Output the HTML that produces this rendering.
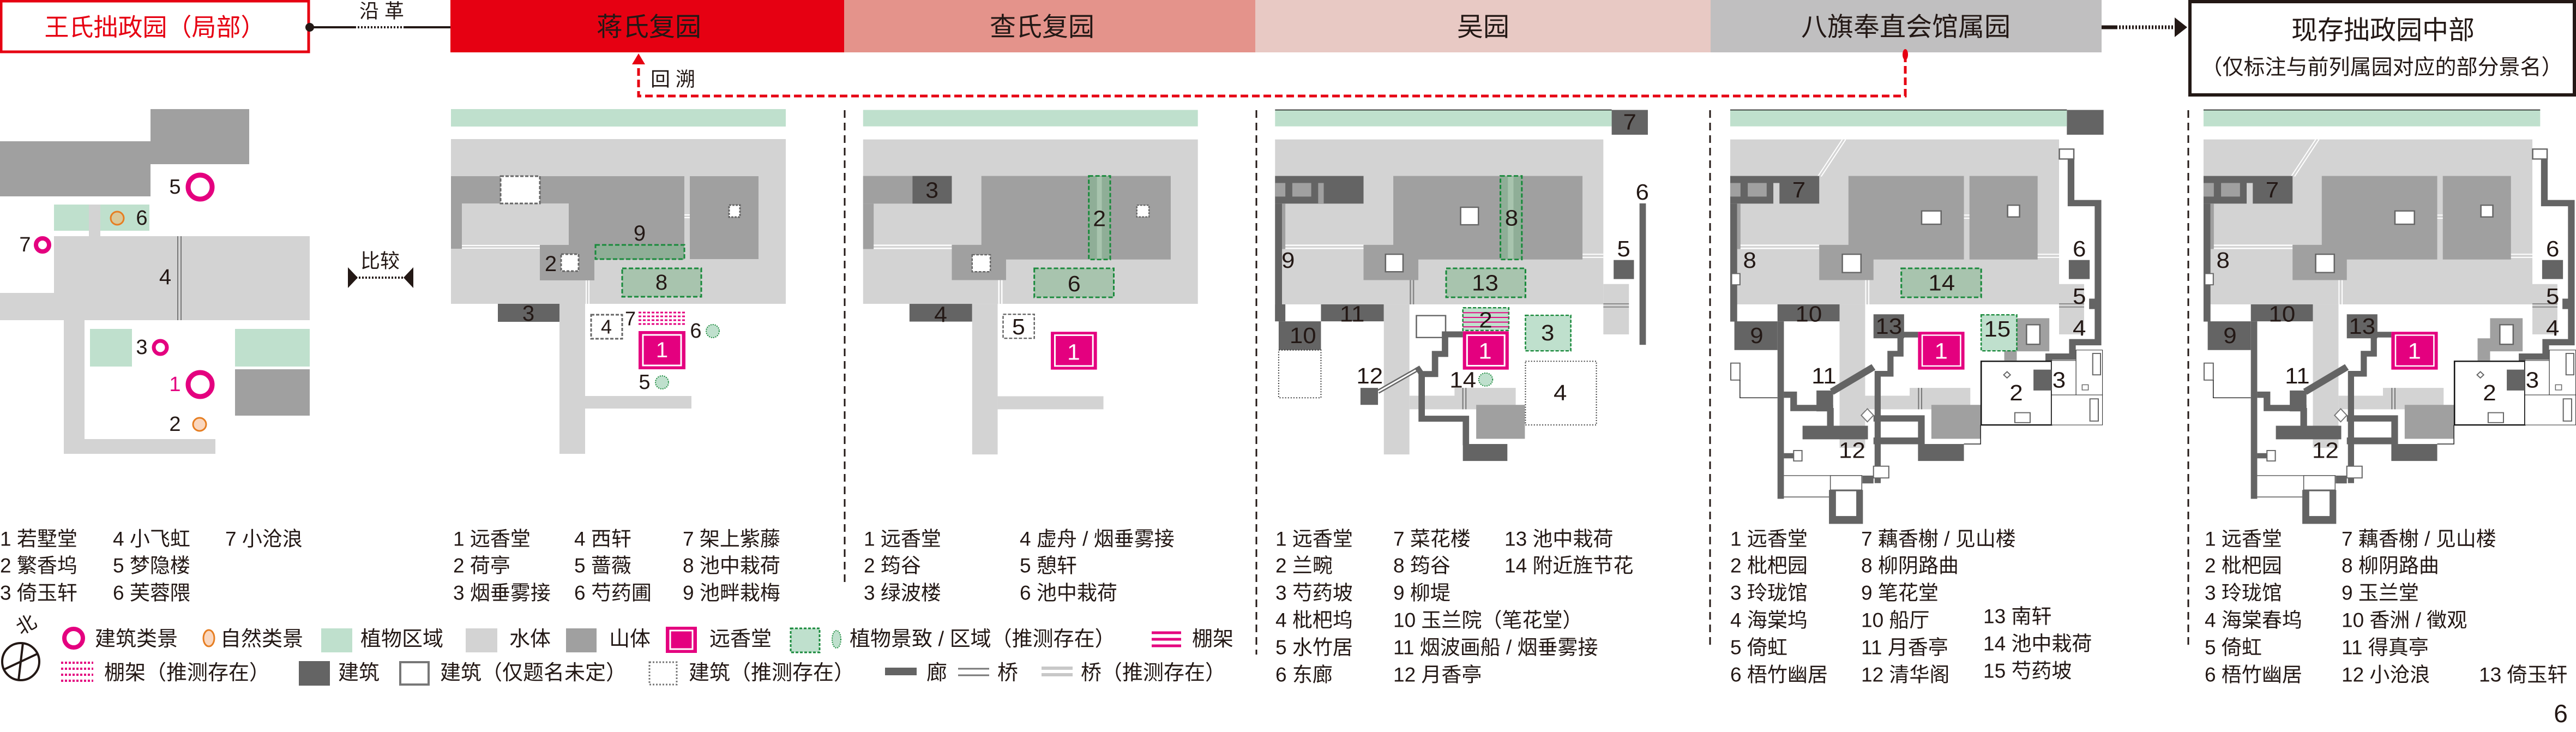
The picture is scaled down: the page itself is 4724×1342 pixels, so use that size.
<!DOCTYPE html>
<html><head><meta charset="utf-8"><style>
html,body{margin:0;padding:0;background:#fff;}
svg{display:block;}
text{font-family:"Liberation Sans","Noto Sans CJK SC",sans-serif;fill:#231815;}
</style></head><body>
<svg width="4724" height="1342" viewBox="0 0 4724 1342" xmlns="http://www.w3.org/2000/svg">
<defs>
<g id="base5">
 <rect x="45" y="45" width="1210" height="63" fill="#bfe0cd"/>
 <line x1="45" y1="45" x2="1255" y2="45" stroke="#000" stroke-width="3"/>
 <polygon points="45,158 1227,158 1227,712 1317,712 1317,905 1227,905 1227,790 45,790" fill="#d3d3d3"/>
 <line x1="360" y1="300" x2="448" y2="158" stroke="#fff" stroke-width="4"/>
 <line x1="372" y1="300" x2="460" y2="158" stroke="#fff" stroke-width="4"/>
 <rect x="45" y="298" width="320" height="106" fill="#646464"/>
 <rect x="45" y="325" width="37" height="52" fill="#a0a0a0"/>
 <rect x="108" y="325" width="68" height="52" fill="#a0a0a0"/>
 <rect x="200" y="325" width="22" height="80" fill="#d3d3d3"/>
 <text x="292" y="352" font-size="86" text-anchor="middle" dominant-baseline="central">7</text>
 <rect x="45" y="404" width="25" height="452" fill="#646464"/>
 <rect x="70" y="404" width="12" height="174" fill="#a0a0a0"/>
 <rect x="82" y="561" width="283" height="5" fill="#fff"/>
 <rect x="82" y="573" width="283" height="5" fill="#fff"/>
 <rect x="470" y="298" width="415" height="320" fill="#a0a0a0"/>
 <rect x="905" y="298" width="245" height="320" fill="#a0a0a0"/>
 <rect x="365" y="562" width="195" height="135" fill="#a0a0a0"/>
 <rect x="885" y="446" width="20" height="4" fill="#fff"/>
 <rect x="885" y="458" width="20" height="4" fill="#fff"/>
 <rect x="448" y="598" width="67" height="70" fill="#fff" stroke="#666" stroke-width="5"/>
 <rect x="733" y="432" width="70" height="51" fill="#fff" stroke="#666" stroke-width="5"/>
 <rect x="1042" y="410" width="43" height="45" fill="#fff" stroke="#666" stroke-width="5"/>
 <rect x="1150" y="596" width="77" height="4" fill="#fff"/>
 <rect x="1150" y="608" width="77" height="4" fill="#fff"/>
 <rect x="530" y="697" width="4" height="93" fill="#fff"/>
 <rect x="541" y="697" width="4" height="93" fill="#fff"/>
 <rect x="1227" y="786" width="90" height="4" fill="#888"/>
 <rect x="1227" y="798" width="90" height="4" fill="#888"/>
 <rect x="1262" y="620" width="75" height="73" fill="#646464"/>
 <rect x="1228" y="195" width="52" height="38" fill="#fff" stroke="#666" stroke-width="5"/>
 <polyline points="1270,233 1270,402 1367,402 1367,935 1275,935 1275,990 1190,990 1190,1040" fill="none" stroke="#646464" stroke-width="24"/>
 <rect x="1335" y="768" width="22" height="40" fill="#646464"/>
 <text x="1300" y="578" font-size="86" text-anchor="middle" dominant-baseline="central">6</text>
 <text x="1300" y="760" font-size="86" text-anchor="middle" dominant-baseline="central">5</text>
 <text x="1300" y="882" font-size="86" text-anchor="middle" dominant-baseline="central">4</text>
 <rect x="50" y="672" width="30" height="43" fill="#fff" stroke="#666" stroke-width="4"/>
 <rect x="47" y="1015" width="33" height="65" fill="#fff" stroke="#666" stroke-width="4"/>
 <polyline points="80,1080 80,1148 215,1148" fill="none" stroke="#222" stroke-width="3"/>
 <!-- water lower -->
 <rect x="438" y="790" width="92" height="550" fill="#d3d3d3"/>
 <rect x="530" y="1140" width="378" height="52" fill="#d3d3d3"/>
 <rect x="690" y="1110" width="218" height="30" fill="#d3d3d3"/>
 <rect x="720" y="1110" width="4" height="82" fill="#777"/>
 <rect x="731" y="1110" width="4" height="82" fill="#777"/>
 <rect x="768" y="1175" width="177" height="130" fill="#a0a0a0"/>
 <polyline points="885,1325 945,1325 945,1252" fill="none" stroke="#222" stroke-width="3"/>
 <rect x="215" y="790" width="223" height="65" fill="#646464"/>
 <text x="327" y="828" font-size="86" text-anchor="middle" dominant-baseline="central">10</text>
 <rect x="60" y="855" width="155" height="110" fill="#646464"/>
 <text x="140" y="910" font-size="86" text-anchor="middle" dominant-baseline="central">9</text>
 <rect x="215" y="855" width="23" height="680" fill="#646464"/>
 <polyline points="238,1136 273,1136 273,1187 415,1187" fill="none" stroke="#646464" stroke-width="24"/>
 <rect x="355" y="1120" width="60" height="80" fill="#646464"/>
 <polyline points="560,1030 410,1125" fill="none" stroke="#646464" stroke-width="26"/>
 <rect x="393" y="1187" width="24" height="70" fill="#646464"/>
 <rect x="305" y="1255" width="235" height="52" fill="#646464"/>
 <polyline points="720,906 657,906 657,979 621,979 621,1056 575,1056 575,1475" fill="none" stroke="#646464" stroke-width="22"/>
 <rect x="560" y="828" width="110" height="92" fill="#646464"/>
 <text x="615" y="875" font-size="86" text-anchor="middle" dominant-baseline="central">13</text>
 <polyline points="560,1227 732,1227 732,1325" fill="none" stroke="#646464" stroke-width="24"/>
 <rect x="560" y="1300" width="170" height="26" fill="#646464"/>
 <rect x="720" y="1325" width="165" height="65" fill="#646464"/>
 <polygon points="538,1190 560,1215 538,1240 516,1215" fill="#fff" stroke="#777" stroke-width="4"/>
 <rect x="273" y="1350" width="30" height="40" fill="#fff" stroke="#666" stroke-width="4"/>
 <rect x="238" y="1360" width="35" height="20" fill="#646464"/>
 <rect x="560" y="1410" width="55" height="45" fill="#fff" stroke="#666" stroke-width="4"/>
 <line x1="238" y1="1446" x2="520" y2="1446" stroke="#555" stroke-width="3"/>
 <rect x="520" y="1446" width="40" height="30" fill="#646464"/>
 <line x1="238" y1="1528" x2="400" y2="1528" stroke="#555" stroke-width="3"/>
 <rect x="405" y="1446" width="113" height="55" fill="#fff" stroke="#555" stroke-width="3"/>
 <rect x="400" y="1501" width="122" height="130" fill="#646464"/>
 <rect x="425" y="1506" width="73" height="95" fill="#fff"/>
 <text x="382" y="1065" font-size="86" text-anchor="middle" dominant-baseline="central">11</text>
 <text x="483" y="1350" font-size="86" text-anchor="middle" dominant-baseline="central">12</text>
 <text x="115" y="622" font-size="86" text-anchor="middle" dominant-baseline="central">8</text>
 <rect x="720" y="895" width="167" height="145" fill="#e4007f"/>
 <rect x="735" y="908" width="138" height="118" fill="none" stroke="#fff" stroke-width="5"/>
 <text x="803" y="970" font-size="86" text-anchor="middle" dominant-baseline="central" style="fill:#fff">1</text>
 <polygon points="1075,843 1192,843 1192,970 1075,970 1075,1005 1030,1005 1030,920 1075,920" fill="#a0a0a0"/>
 <rect x="1110" y="868" width="48" height="75" fill="#fff" stroke="#666" stroke-width="5"/>
 <rect x="947" y="1008" width="253" height="244" fill="#fff" stroke="#111" stroke-width="5"/>
 <polygon points="1040,1048 1052,1060 1040,1072 1028,1060" fill="#fff" stroke="#666" stroke-width="4"/>
 <rect x="1068" y="1205" width="55" height="38" fill="#fff" stroke="#666" stroke-width="4"/>
 <rect x="1135" y="1040" width="65" height="80" fill="#646464"/>
 <text x="1073" y="1130" font-size="86" text-anchor="middle" dominant-baseline="central">2</text>
 <rect x="1200" y="1005" width="88" height="132" fill="#fff" stroke="#222" stroke-width="2"/>
 <rect x="1288" y="965" width="95" height="172" fill="#fff" stroke="#222" stroke-width="2"/>
 <rect x="1200" y="1137" width="183" height="115" fill="#fff" stroke="#222" stroke-width="2"/>
 <rect x="1348" y="978" width="28" height="82" fill="#fff" stroke="#666" stroke-width="4"/>
 <rect x="1338" y="1152" width="30" height="85" fill="#fff" stroke="#666" stroke-width="4"/>
 <rect x="1310" y="1098" width="22" height="20" fill="#fff" stroke="#666" stroke-width="3"/>
 <text x="1227" y="1080" font-size="86" text-anchor="middle" dominant-baseline="central">3</text>
</g>
</defs>

<!-- ===== HEADER ===== -->
<rect x="2" y="2" width="564" height="93" fill="#fff" stroke="#e60012" stroke-width="5"/>
<text x="284" y="50" font-size="45" text-anchor="middle" dominant-baseline="central" style="fill:#e60012">王氏拙政园（局部）</text>
<line x1="568" y1="50" x2="650" y2="50" stroke="#231815" stroke-width="4"/>
<line x1="650" y1="50" x2="742" y2="50" stroke="#231815" stroke-width="4" stroke-dasharray="3 3"/>
<line x1="742" y1="50" x2="826" y2="50" stroke="#231815" stroke-width="4"/>
<circle cx="568" cy="50" r="8" fill="#231815"/>
<text x="700" y="20" font-size="36" text-anchor="middle" dominant-baseline="central">沿 革</text>
<rect x="826" y="0" width="722" height="96" fill="#e60012"/>
<text x="1190" y="50" font-size="48" text-anchor="middle" dominant-baseline="central">蒋氏复园</text>
<rect x="1548" y="0" width="754" height="96" fill="#e4938b"/>
<text x="1911" y="50" font-size="48" text-anchor="middle" dominant-baseline="central">查氏复园</text>
<rect x="2302" y="0" width="835" height="96" fill="#e8c9c4"/>
<text x="2720" y="50" font-size="48" text-anchor="middle" dominant-baseline="central">吴园</text>
<rect x="3137" y="0" width="717" height="96" fill="#c0bfc0"/>
<text x="3495" y="50" font-size="48" text-anchor="middle" dominant-baseline="central">八旗奉直会馆属园</text>
<line x1="3854" y1="50" x2="3880" y2="50" stroke="#231815" stroke-width="7"/>
<line x1="3880" y1="50" x2="3990" y2="50" stroke="#231815" stroke-width="7" stroke-dasharray="3 3"/>
<polygon points="3988,32 4011,50 3988,68" fill="#231815"/>
<rect x="4016" y="3" width="705" height="171" fill="#fff" stroke="#231815" stroke-width="6"/>
<text x="4370" y="56" font-size="48" text-anchor="middle" dominant-baseline="central">现存拙政园中部</text>
<text x="4368" y="124" font-size="39" text-anchor="middle" dominant-baseline="central">（仅标注与前列属园对应的部分景名）</text>
<!-- red dashed back link -->
<polyline points="3494,100 3494,176 1171,176 1171,112" fill="none" stroke="#e60012" stroke-width="5" stroke-dasharray="14 7"/>
<ellipse cx="3494" cy="100" rx="5" ry="10" fill="#e60012"/>
<polygon points="1159,118 1171,98 1183,118" fill="#e60012"/>
<text x="1234" y="145" font-size="36" text-anchor="middle" dominant-baseline="central">回 溯</text>

<!-- separators -->
<g stroke="#231815" stroke-width="3" stroke-dasharray="14 9">
<line x1="1549" y1="202" x2="1549" y2="1075"/>
<line x1="2304" y1="202" x2="2304" y2="1200"/>
<line x1="3136" y1="202" x2="3136" y2="1188"/>
<line x1="4013" y1="202" x2="4013" y2="1188"/>
</g>

<!-- ===== PANEL 1 ===== -->
<rect x="276" y="200" width="181" height="101" fill="#a0a0a0"/>
<rect x="0" y="259" width="276" height="101" fill="#a0a0a0"/>
<rect x="99" y="375" width="175" height="48" fill="#bfe0cd"/>
<rect x="163" y="375" width="21" height="58" fill="#d3d3d3"/>
<circle cx="215" cy="400" r="12" fill="#d9c99a" stroke="#e67e22" stroke-width="3"/>
<text x="260" y="400" font-size="38" text-anchor="middle" dominant-baseline="central">6</text>
<text x="321" y="343" font-size="38" text-anchor="middle" dominant-baseline="central">5</text>
<circle cx="367" cy="343" r="22" fill="none" stroke="#e4007f" stroke-width="9"/>
<text x="46" y="449" font-size="38" text-anchor="middle" dominant-baseline="central">7</text>
<circle cx="78" cy="449" r="12" fill="none" stroke="#e4007f" stroke-width="8"/>
<rect x="99" y="433" width="469" height="154" fill="#d3d3d3"/>
<rect x="0" y="537" width="99" height="50" fill="#d3d3d3"/>
<line x1="326" y1="433" x2="326" y2="587" stroke="#777" stroke-width="2"/>
<line x1="332" y1="433" x2="332" y2="587" stroke="#777" stroke-width="2"/>
<text x="303" y="508" font-size="40" text-anchor="middle" dominant-baseline="central">4</text>
<rect x="117" y="587" width="38" height="245" fill="#d3d3d3"/>
<rect x="155" y="805" width="240" height="27" fill="#d3d3d3"/>
<rect x="165" y="603" width="77" height="69" fill="#bfe0cd"/>
<text x="260" y="637" font-size="38" text-anchor="middle" dominant-baseline="central">3</text>
<circle cx="294" cy="637" r="12" fill="none" stroke="#e4007f" stroke-width="7"/>
<rect x="431" y="603" width="137" height="69" fill="#bfe0cd"/>
<rect x="431" y="677" width="137" height="85" fill="#a0a0a0"/>
<text x="321" y="705" font-size="38" text-anchor="middle" dominant-baseline="central" style="fill:#e4007f">1</text>
<circle cx="367" cy="705" r="22" fill="none" stroke="#e4007f" stroke-width="9"/>
<text x="321" y="778" font-size="38" text-anchor="middle" dominant-baseline="central">2</text>
<circle cx="366" cy="778" r="12" fill="#fad7bf" stroke="#e67e22" stroke-width="3"/>
<!-- compare arrow -->
<text x="697" y="478" font-size="36" text-anchor="middle" dominant-baseline="central">比较</text>
<line x1="652" y1="509" x2="744" y2="509" stroke="#231815" stroke-width="4" stroke-dasharray="3 3"/>
<polygon points="638,490 656,509 638,528" fill="#231815"/>
<polygon points="758,490 740,509 758,528" fill="#231815"/>

<!-- ===== PANEL 2 ===== -->
<rect x="827" y="200" width="614" height="32" fill="#bfe0cd"/>
<rect x="827" y="255" width="614" height="302" fill="#d3d3d3"/>
<rect x="827" y="323" width="216" height="50" fill="#a0a0a0"/>
<rect x="827" y="373" width="20" height="83" fill="#a0a0a0"/>
<rect x="918" y="323" width="72" height="50" fill="#fff" stroke="#666" stroke-width="3" stroke-dasharray="6 3"/>
<rect x="847" y="449" width="143" height="2" fill="#fff"/>
<rect x="847" y="454" width="143" height="2" fill="#fff"/>
<rect x="1043" y="323" width="212" height="153" fill="#a0a0a0"/>
<rect x="990" y="449" width="100" height="65" fill="#a0a0a0"/>
<rect x="1029" y="466" width="32" height="31" fill="#fff" stroke="#666" stroke-width="3" stroke-dasharray="5 3"/>
<text x="1010" y="484" font-size="40" text-anchor="middle" dominant-baseline="central">2</text>
<rect x="1265" y="323" width="126" height="152" fill="#a0a0a0"/>
<rect x="1255" y="393" width="10" height="2" fill="#fff"/>
<rect x="1255" y="398" width="10" height="2" fill="#fff"/>
<rect x="1337" y="376" width="20" height="22" fill="#fff" stroke="#666" stroke-width="3" stroke-dasharray="4 2"/>
<text x="1173" y="428" font-size="40" text-anchor="middle" dominant-baseline="central">9</text>
<rect x="1092" y="449" width="163" height="26" fill="#8fae97" stroke="#1a8a3c" stroke-width="3" stroke-dasharray="8 4"/>
<rect x="1141" y="492" width="145" height="52" fill="#a8c4ae" stroke="#1a8a3c" stroke-width="3" stroke-dasharray="8 4"/>
<text x="1213" y="518" font-size="40" text-anchor="middle" dominant-baseline="central">8</text>
<rect x="1026" y="557" width="47" height="275" fill="#d3d3d3"/>
<rect x="1073" y="726" width="195" height="23" fill="#d3d3d3"/>
<rect x="1074" y="514" width="2" height="43" fill="#fff"/>
<rect x="1079" y="514" width="2" height="43" fill="#fff"/>
<rect x="913" y="557" width="113" height="33" fill="#646464"/>
<text x="969" y="575" font-size="40" text-anchor="middle" dominant-baseline="central">3</text>
<rect x="1084" y="577" width="57" height="44" fill="#fff" stroke="#666" stroke-width="3" stroke-dasharray="6 3"/>
<text x="1112" y="599" font-size="36" text-anchor="middle" dominant-baseline="central">4</text>
<text x="1156" y="584" font-size="36" text-anchor="middle" dominant-baseline="central">7</text>
<g stroke="#e4007f" stroke-width="3" stroke-dasharray="5 3">
<line x1="1171" y1="573" x2="1257" y2="573"/><line x1="1171" y1="580" x2="1257" y2="580"/>
<line x1="1171" y1="587" x2="1257" y2="587"/><line x1="1171" y1="594" x2="1257" y2="594"/>
</g>
<rect x="1171" y="607" width="86" height="70" fill="#e4007f"/>
<rect x="1179" y="614" width="70" height="56" fill="none" stroke="#fff" stroke-width="3"/>
<text x="1214" y="642" font-size="40" text-anchor="middle" dominant-baseline="central" style="fill:#fff">1</text>
<text x="1276" y="607" font-size="38" text-anchor="middle" dominant-baseline="central">6</text>
<circle cx="1307" cy="607" r="12" fill="#bfe0cd" stroke="#1a8a3c" stroke-width="2" stroke-dasharray="2 2"/>
<text x="1182" y="701" font-size="38" text-anchor="middle" dominant-baseline="central">5</text>
<circle cx="1214" cy="701" r="12" fill="#bfe0cd" stroke="#1a8a3c" stroke-width="2" stroke-dasharray="2 2"/>

<!-- ===== PANEL 3 ===== -->
<g transform="translate(1540,180) scale(0.4975,0.4785)">
 <rect x="86" y="45" width="1234" height="63" fill="#bfe0cd"/>
 <rect x="86" y="158" width="1234" height="630" fill="#d3d3d3"/>
 <rect x="86" y="298" width="182" height="106" fill="#a0a0a0"/>
 <rect x="268" y="298" width="145" height="106" fill="#646464"/>
 <rect x="86" y="404" width="39" height="174" fill="#a0a0a0"/>
 <rect x="125" y="561" width="288" height="5" fill="#fff"/>
 <rect x="125" y="573" width="288" height="5" fill="#fff"/>
 <rect x="522" y="298" width="698" height="320" fill="#a0a0a0"/>
 <rect x="413" y="562" width="200" height="135" fill="#a0a0a0"/>
 <rect x="488" y="600" width="67" height="65" fill="#fff" stroke="#666" stroke-width="5" stroke-dasharray="10 5"/>
 <rect x="918" y="298" width="79" height="320" fill="#8fae97" stroke="#1a8a3c" stroke-width="6" stroke-dasharray="16 8"/>
 <rect x="948" y="301" width="18" height="314" fill="#a8c4ae"/>
 <rect x="1095" y="410" width="45" height="45" fill="#fff" stroke="#666" stroke-width="5" stroke-dasharray="8 4"/>
 <rect x="717" y="652" width="293" height="111" fill="#a8c4ae" stroke="#1a8a3c" stroke-width="6" stroke-dasharray="16 8"/>
 <rect x="257" y="788" width="231" height="68" fill="#646464"/>
 <rect x="488" y="788" width="94" height="577" fill="#d3d3d3"/>
 <rect x="582" y="1142" width="390" height="50" fill="#d3d3d3"/>
 <rect x="584" y="697" width="5" height="91" fill="#fff"/>
 <rect x="595" y="697" width="5" height="91" fill="#fff"/>
 <rect x="602" y="828" width="115" height="92" fill="#fff" stroke="#666" stroke-width="5" stroke-dasharray="12 6"/>
 <rect x="778" y="895" width="170" height="145" fill="#e4007f"/>
 <rect x="793" y="908" width="140" height="118" fill="none" stroke="#fff" stroke-width="6"/>
 <g font-size="86" text-anchor="middle" dominant-baseline="central">
 <text x="340" y="352">3</text><text x="957" y="460">2</text><text x="864" y="710">6</text>
 <text x="372" y="828">4</text><text x="659" y="875">5</text><text x="862" y="972" style="fill:#fff">1</text>
 </g>
</g>

<!-- ===== PANEL 4 ===== -->
<g transform="translate(2300,180) scale(0.5102,0.4785)">
 <rect x="75" y="45" width="1210" height="63" fill="#bfe0cd"/>
 <line x1="75" y1="45" x2="1285" y2="45" stroke="#000" stroke-width="3"/>
 <rect x="1285" y="45" width="130" height="95" fill="#646464"/>
 <rect x="75" y="158" width="1180" height="632" fill="#d3d3d3"/>
 <rect x="1255" y="712" width="92" height="193" fill="#d3d3d3"/>
 <rect x="1255" y="786" width="92" height="4" fill="#888"/>
 <rect x="1255" y="798" width="92" height="4" fill="#888"/>
 <rect x="75" y="298" width="318" height="106" fill="#646464"/>
 <rect x="75" y="325" width="37" height="52" fill="#a0a0a0"/>
 <rect x="137" y="325" width="68" height="52" fill="#a0a0a0"/>
 <rect x="230" y="325" width="20" height="80" fill="#a0a0a0"/>
 <rect x="75" y="404" width="25" height="451" fill="#646464"/>
 <rect x="100" y="404" width="12" height="174" fill="#a0a0a0"/>
 <rect x="112" y="561" width="281" height="5" fill="#fff"/>
 <rect x="112" y="573" width="281" height="5" fill="#fff"/>
 <rect x="500" y="298" width="680" height="320" fill="#a0a0a0"/>
 <rect x="393" y="562" width="197" height="135" fill="#a0a0a0"/>
 <rect x="472" y="598" width="63" height="67" fill="#fff" stroke="#666" stroke-width="5"/>
 <rect x="742" y="418" width="64" height="67" fill="#fff" stroke="#666" stroke-width="5"/>
 <rect x="885" y="298" width="77" height="320" fill="#8fae97" stroke="#1a8a3c" stroke-width="6" stroke-dasharray="16 8"/>
 <rect x="912" y="301" width="20" height="314" fill="#a8c4ae"/>
 <rect x="1180" y="596" width="75" height="4" fill="#fff"/>
 <rect x="1180" y="608" width="75" height="4" fill="#fff"/>
 <rect x="690" y="652" width="285" height="111" fill="#a8c4ae" stroke="#1a8a3c" stroke-width="6" stroke-dasharray="16 8"/>
 <rect x="559" y="697" width="5" height="93" fill="#888"/>
 <rect x="570" y="697" width="5" height="93" fill="#888"/>
 <rect x="1292" y="620" width="73" height="73" fill="#646464"/>
 <rect x="1385" y="403" width="23" height="542" fill="#646464"/>
 <rect x="240" y="790" width="226" height="65" fill="#646464"/>
 <rect x="75" y="790" width="37" height="65" fill="#646464"/>
 <rect x="88" y="855" width="152" height="110" fill="#646464"/>
 <rect x="88" y="965" width="152" height="183" fill="none" stroke="#333" stroke-width="4" stroke-dasharray="4 6"/>
 <rect x="466" y="790" width="92" height="575" fill="#d3d3d3"/>
 <rect x="558" y="1140" width="382" height="52" fill="#d3d3d3"/>
 <rect x="720" y="1110" width="220" height="30" fill="#d3d3d3"/>
 <rect x="748" y="1110" width="4" height="82" fill="#777"/>
 <rect x="759" y="1110" width="4" height="82" fill="#777"/>
 <line x1="445" y1="1125" x2="588" y2="1038" stroke="#666" stroke-width="16"/>
 <line x1="445" y1="1125" x2="588" y2="1038" stroke="#fff" stroke-width="6"/>
 <rect x="382" y="1110" width="63" height="65" fill="#646464"/>
 <rect x="583" y="833" width="105" height="84" fill="#fff" stroke="#666" stroke-width="5"/>
 <polyline points="750,905 686,905 686,980 650,980 650,1057 602,1057 602,1228 761,1228 761,1330" fill="none" stroke="#646464" stroke-width="23"/>
 <polyline points="602,1057 585,1030" fill="none" stroke="#646464" stroke-width="20"/>
 <rect x="750" y="1325" width="160" height="65" fill="#646464"/>
 <rect x="798" y="1175" width="175" height="130" fill="#a0a0a0"/>
 <rect x="750" y="803" width="165" height="87" fill="#bfe0cd" stroke="#1a8a3c" stroke-width="5" stroke-dasharray="12 6"/>
 <g stroke="#e4007f" stroke-width="4">
 <line x1="750" y1="822" x2="915" y2="822"/><line x1="750" y1="840" x2="915" y2="840"/>
 <line x1="750" y1="858" x2="915" y2="858"/><line x1="750" y1="876" x2="915" y2="876"/>
 </g>
 <rect x="750" y="893" width="165" height="147" fill="#e4007f"/>
 <rect x="765" y="908" width="135" height="117" fill="none" stroke="#fff" stroke-width="6"/>
 <circle cx="832" cy="1078" r="25" fill="#bfe0cd" stroke="#1a8a3c" stroke-width="4" stroke-dasharray="4 4"/>
 <rect x="975" y="832" width="163" height="136" fill="#bfe0cd" stroke="#1a8a3c" stroke-width="5" stroke-dasharray="12 6"/>
 <rect x="975" y="1008" width="255" height="244" fill="none" stroke="#333" stroke-width="4" stroke-dasharray="4 6"/>
 <g font-size="86" text-anchor="middle" dominant-baseline="central">
 <text x="1350" y="92">7</text><text x="925" y="460">8</text><text x="122" y="622">9</text>
 <text x="1328" y="578">5</text><text x="1395" y="360">6</text><text x="830" y="708">13</text>
 <text x="352" y="828">11</text><text x="175" y="910">10</text><text x="415" y="1065">12</text>
 <text x="832" y="850">2</text><text x="830" y="970" style="fill:#fff">1</text><text x="750" y="1080">14</text>
 <text x="1055" y="900">3</text><text x="1100" y="1130">4</text>
 </g>
</g>

<!-- ===== PANEL 5 ===== -->
<g transform="translate(3150,180) scale(0.5102,0.4785)">
 <rect x="1255" y="45" width="132" height="95" fill="#646464"/>
 <use href="#base5"/>
 <rect x="660" y="652" width="287" height="111" fill="#a8c4ae" stroke="#1a8a3c" stroke-width="6" stroke-dasharray="16 8"/>
 <text x="805" y="708" font-size="86" text-anchor="middle" dominant-baseline="central">14</text>
 <rect x="947" y="830" width="128" height="138" fill="#bfe0cd" stroke="#1a8a3c" stroke-width="5" stroke-dasharray="12 6"/>
 <text x="1005" y="885" font-size="86" text-anchor="middle" dominant-baseline="central">15</text>
</g>

<!-- ===== PANEL 6 ===== -->
<g transform="translate(4018,180) scale(0.5102,0.4785)">
 <use href="#base5"/>
</g>

<!-- ===== LISTS ===== -->
<g font-size="37" dominant-baseline="central">
 <text x="0" y="988">1 若墅堂</text><text x="207" y="988">4 小飞虹</text><text x="413" y="988">7 小沧浪</text>
 <text x="0" y="1037">2 繁香坞</text><text x="207" y="1037">5 梦隐楼</text>
 <text x="0" y="1087">3 倚玉轩</text><text x="207" y="1087">6 芙蓉隈</text>

 <text x="831" y="988">1 远香堂</text><text x="1053" y="988">4 西轩</text><text x="1252" y="988">7 架上紫藤</text>
 <text x="831" y="1037">2 荷亭</text><text x="1053" y="1037">5 蔷薇</text><text x="1252" y="1037">8 池中栽荷</text>
 <text x="831" y="1087">3 烟垂雾接</text><text x="1053" y="1087">6 芍药圃</text><text x="1252" y="1087">9 池畔栽梅</text>

 <text x="1584" y="988">1 远香堂</text><text x="1870" y="988">4 虚舟 / 烟垂雾接</text>
 <text x="1584" y="1037">2 筠谷</text><text x="1870" y="1037">5 憩轩</text>
 <text x="1584" y="1087">3 绿波楼</text><text x="1870" y="1087">6 池中栽荷</text>

 <text x="2339" y="988">1 远香堂</text><text x="2555" y="988">7 菜花楼</text><text x="2759" y="988">13 池中栽荷</text>
 <text x="2339" y="1037">2 兰畹</text><text x="2555" y="1037">8 筠谷</text><text x="2759" y="1037">14 附近旌节花</text>
 <text x="2339" y="1087">3 芍药坡</text><text x="2555" y="1087">9 柳堤</text>
 <text x="2339" y="1137">4 枇杷坞</text><text x="2555" y="1137">10 玉兰院（笔花堂）</text>
 <text x="2339" y="1187">5 水竹居</text><text x="2555" y="1187">11 烟波画船 / 烟垂雾接</text>
 <text x="2339" y="1237">6 东廊</text><text x="2555" y="1237">12 月香亭</text>

 <text x="3173" y="988">1 远香堂</text><text x="3413" y="988">7 藕香榭 / 见山楼</text>
 <text x="3173" y="1037">2 枇杷园</text><text x="3413" y="1037">8 柳阴路曲</text>
 <text x="3173" y="1087">3 玲珑馆</text><text x="3413" y="1087">9 笔花堂</text>
 <text x="3173" y="1137">4 海棠坞</text><text x="3413" y="1137">10 船厅</text><text x="3637" y="1130">13 南轩</text>
 <text x="3173" y="1187">5 倚虹</text><text x="3413" y="1187">11 月香亭</text><text x="3637" y="1180">14 池中栽荷</text>
 <text x="3173" y="1237">6 梧竹幽居</text><text x="3413" y="1237">12 清华阁</text><text x="3637" y="1230">15 芍药坡</text>

 <text x="4043" y="988">1 远香堂</text><text x="4294" y="988">7 藕香榭 / 见山楼</text>
 <text x="4043" y="1037">2 枇杷园</text><text x="4294" y="1037">8 柳阴路曲</text>
 <text x="4043" y="1087">3 玲珑馆</text><text x="4294" y="1087">9 玉兰堂</text>
 <text x="4043" y="1137">4 海棠春坞</text><text x="4294" y="1137">10 香洲 / 徵观</text>
 <text x="4043" y="1187">5 倚虹</text><text x="4294" y="1187">11 得真亭</text>
 <text x="4043" y="1237">6 梧竹幽居</text><text x="4294" y="1237">12 小沧浪</text><text x="4546" y="1237">13 倚玉轩</text>
</g>
<text x="4696" y="1308" font-size="46" text-anchor="middle" dominant-baseline="central">6</text>

<!-- ===== LEGEND ===== -->
<text x="48" y="1145" font-size="36" text-anchor="middle" dominant-baseline="central" transform="rotate(-30 48 1145)">北</text>
<circle cx="38" cy="1213" r="34" fill="none" stroke="#231815" stroke-width="4"/>
<line x1="42" y1="1179" x2="34" y2="1247" stroke="#231815" stroke-width="4"/>
<line x1="6" y1="1228" x2="70" y2="1198" stroke="#231815" stroke-width="4"/>
<g font-size="38" dominant-baseline="central">
 <circle cx="135" cy="1170" r="17" fill="none" stroke="#e4007f" stroke-width="8"/>
 <text x="174" y="1172">建筑类景</text>
 <ellipse cx="383" cy="1170" rx="10" ry="15" fill="#fad7bf" stroke="#e67e22" stroke-width="3"/>
 <text x="404" y="1172">自然类景</text>
 <rect x="589" y="1152" width="57" height="44" fill="#bfe0cd"/>
 <text x="661" y="1172">植物区域</text>
 <rect x="854" y="1152" width="58" height="44" fill="#d3d3d3"/>
 <text x="934" y="1172">水体</text>
 <rect x="1038" y="1152" width="56" height="44" fill="#a0a0a0"/>
 <text x="1117" y="1172">山体</text>
 <rect x="1221" y="1149" width="57" height="48" fill="#e4007f"/>
 <rect x="1229" y="1156" width="41" height="34" fill="none" stroke="#fff" stroke-width="3"/>
 <text x="1301" y="1172">远香堂</text>
 <rect x="1450" y="1152" width="53" height="44" fill="#bfe0cd" stroke="#1a8a3c" stroke-width="3" stroke-dasharray="5 3"/>
 <ellipse cx="1534" cy="1172" rx="8" ry="16" fill="#bfe0cd" stroke="#1a8a3c" stroke-width="2" stroke-dasharray="2 2"/>
 <text x="1558" y="1172">植物景致 / 区域（推测存在）</text>
 <g stroke="#e4007f" stroke-width="5">
 <line x1="2112" y1="1160" x2="2166" y2="1160"/><line x1="2112" y1="1172" x2="2166" y2="1172"/><line x1="2112" y1="1184" x2="2166" y2="1184"/>
 </g>
 <text x="2186" y="1172">棚架</text>

 <g stroke="#e4007f" stroke-width="4" stroke-dasharray="4 3">
 <line x1="112" y1="1215" x2="171" y2="1215"/><line x1="112" y1="1226" x2="171" y2="1226"/>
 <line x1="112" y1="1237" x2="171" y2="1237"/><line x1="112" y1="1248" x2="171" y2="1248"/>
 </g>
 <text x="191" y="1234">棚架（推测存在）</text>
 <rect x="548" y="1212" width="57" height="45" fill="#646464"/>
 <text x="620" y="1234">建筑</text>
 <rect x="734" y="1214" width="52" height="41" fill="#fff" stroke="#777" stroke-width="4"/>
 <text x="807" y="1234">建筑（仅题名未定）</text>
 <rect x="1191" y="1214" width="50" height="41" fill="#fff" stroke="#777" stroke-width="3" stroke-dasharray="3 3"/>
 <text x="1263" y="1234">建筑（推测存在）</text>
 <rect x="1623" y="1224" width="58" height="14" fill="#646464"/>
 <text x="1699" y="1234">廊</text>
 <line x1="1757" y1="1226" x2="1814" y2="1226" stroke="#777" stroke-width="3"/>
 <line x1="1757" y1="1238" x2="1814" y2="1238" stroke="#777" stroke-width="3"/>
 <text x="1829" y="1234">桥</text>
 <rect x="1910" y="1222" width="57" height="6" fill="#c8c8c8"/>
 <rect x="1910" y="1234" width="57" height="6" fill="#c8c8c8"/>
 <text x="1982" y="1234">桥（推测存在）</text>
</g>
</svg>
</body></html>
